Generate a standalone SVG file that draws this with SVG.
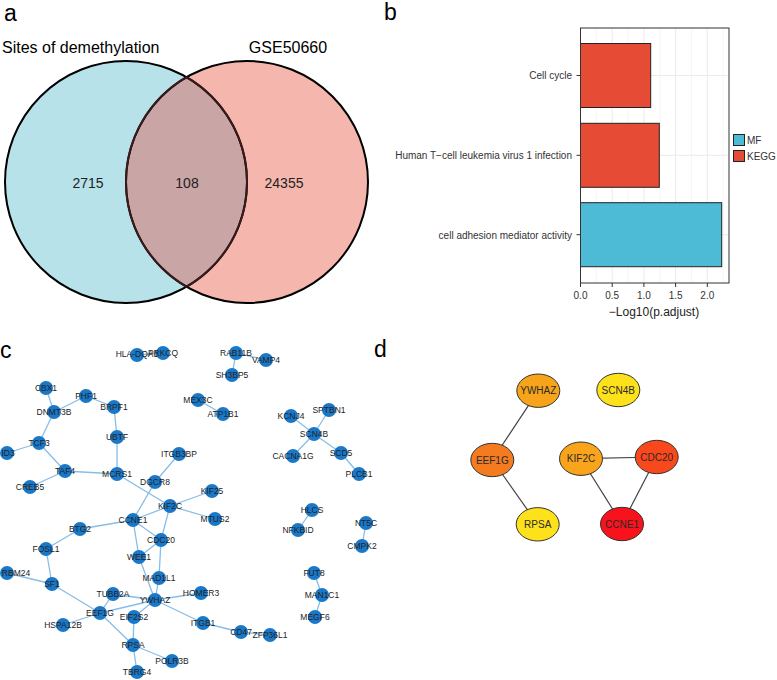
<svg xmlns="http://www.w3.org/2000/svg" width="777" height="680" viewBox="0 0 777 680">
<style>
  text { font-family: "Liberation Sans", Arial, sans-serif; }
  .panel { font-size: 23px; fill: #000; }
  .vt { font-size: 16px; fill: #000; }
  .vn { font-size: 14px; fill: #222; text-anchor: middle; }
  .grid { stroke: #ebebeb; stroke-width: 1; }
  .gridm { stroke: #f3f3f3; stroke-width: 0.8; }
  .ax { font-size: 10px; fill: #333; }
  .tick { stroke: #333; stroke-width: 1; }
  .bar { stroke: #222; stroke-width: 1; }
  .kegg { fill: #e64b35; }
  .mf { fill: #4dbbd5; }
  .e { stroke: #86bde8; stroke-width: 1.3; fill: none; }
  .n circle { fill: #1a78c8; }
  .lbl text { font-size: 8.5px; fill: #222; text-anchor: middle; }
  .de { stroke: #444; stroke-width: 1.2; }
  .dn ellipse { stroke: #333; stroke-width: 1; }
  .dn text { font-size: 10px; fill: #2a2a2a; text-anchor: middle; }
</style>

<rect x="0" y="0" width="777" height="680" fill="#fff"/>

<!-- Panel a -->
<g id="panel-a">
  <text class="panel" x="4" y="21">a</text>
  <text class="vt" x="2" y="53">Sites of demethylation</text>
  <text class="vt" x="288" y="53" text-anchor="middle">GSE50660</text>
  <circle cx="126" cy="182" r="121" fill="#b7e2ea"/>
  <circle cx="247" cy="182" r="121" fill="#f5b7ad"/>
  <path d="M186.5,77.2 A121,121 0 0,1 186.5,286.8 A121,121 0 0,1 186.5,77.2 Z" fill="#c9a5a5"/>
  <circle cx="126" cy="182" r="121" fill="none" stroke="#000" stroke-width="2"/>
  <circle cx="247" cy="182" r="121" fill="none" stroke="#000" stroke-width="2"/>
  <path d="M186.5,77.2 A121,121 0 0,1 186.5,286.8 A121,121 0 0,1 186.5,77.2 Z" fill="none" stroke="#3a1a1a" stroke-width="2"/>
  <text class="vn" x="88" y="188">2715</text>
  <text class="vn" x="187" y="188">108</text>
  <text class="vn" x="284" y="188">24355</text>
</g>

<!-- Panel b -->
<g id="panel-b">
  <text class="panel" x="384" y="20">b</text>
  <rect x="580.5" y="28" width="148.5" height="255" fill="#fff"/>
  <g class="gridm">
    <line x1="596.3" y1="28" x2="596.3" y2="283"/>
    <line x1="628.1" y1="28" x2="628.1" y2="283"/>
    <line x1="659.8" y1="28" x2="659.8" y2="283"/>
    <line x1="691.5" y1="28" x2="691.5" y2="283"/>
    <line x1="723.2" y1="28" x2="723.2" y2="283"/>
  </g>
  <g class="grid">
    <line x1="612.2" y1="28" x2="612.2" y2="283"/>
    <line x1="643.9" y1="28" x2="643.9" y2="283"/>
    <line x1="675.6" y1="28" x2="675.6" y2="283"/>
    <line x1="707.3" y1="28" x2="707.3" y2="283"/>
    <line x1="580.5" y1="75.5" x2="729" y2="75.5"/>
    <line x1="580.5" y1="155.3" x2="729" y2="155.3"/>
    <line x1="580.5" y1="234.7" x2="729" y2="234.7"/>
  </g>
  <rect class="bar kegg" x="580.5" y="43.5" width="70.2" height="64"/>
  <rect class="bar kegg" x="580.5" y="123.3" width="78.8" height="64"/>
  <rect class="bar mf" x="580.5" y="202.7" width="141.2" height="64"/>
  <rect x="580.5" y="28" width="148.5" height="255" fill="none" stroke="#333" stroke-width="1"/>
  <g class="tick">
    <line x1="576.5" y1="75.5" x2="580.5" y2="75.5"/>
    <line x1="576.5" y1="155.3" x2="580.5" y2="155.3"/>
    <line x1="576.5" y1="234.7" x2="580.5" y2="234.7"/>
    <line x1="580.5" y1="283" x2="580.5" y2="287"/>
    <line x1="612.2" y1="283" x2="612.2" y2="287"/>
    <line x1="643.9" y1="283" x2="643.9" y2="287"/>
    <line x1="675.6" y1="283" x2="675.6" y2="287"/>
    <line x1="707.3" y1="283" x2="707.3" y2="287"/>
  </g>
  <g class="ax" text-anchor="end">
    <text x="572" y="79">Cell cycle</text>
    <text x="572" y="159">Human T−cell leukemia virus 1 infection</text>
    <text x="572" y="238.5">cell adhesion mediator activity</text>
  </g>
  <g class="ax" text-anchor="middle">
    <text x="580.5" y="299">0.0</text>
    <text x="612.2" y="299">0.5</text>
    <text x="643.9" y="299">1.0</text>
    <text x="675.6" y="299">1.5</text>
    <text x="707.3" y="299">2.0</text>
  </g>
  <text x="654" y="316" font-size="12" fill="#222" text-anchor="middle">−Log10(p.adjust)</text>
  <rect class="bar mf" x="733.5" y="134.5" width="11" height="11"/>
  <rect class="bar kegg" x="733.5" y="150.5" width="11" height="11"/>
  <text class="ax" x="747" y="144">MF</text>
  <text class="ax" x="747" y="160">KEGG</text>
</g>

<!-- Panel c -->
<text class="panel" x="0" y="358">c</text>
<g id="c-edges">
  <line class="e" x1="137" y1="355" x2="163" y2="353"/>
  <line class="e" x1="236" y1="353" x2="266" y2="360"/>
  <line class="e" x1="236" y1="353" x2="232" y2="375"/>
  <line class="e" x1="198" y1="400" x2="223" y2="414"/>
  <line class="e" x1="314" y1="434" x2="291" y2="416"/>
  <line class="e" x1="314" y1="434" x2="329" y2="410"/>
  <line class="e" x1="314" y1="434" x2="293" y2="456"/>
  <line class="e" x1="314" y1="434" x2="341" y2="453"/>
  <line class="e" x1="341" y1="453" x2="359" y2="474"/>
  <line class="e" x1="46" y1="388" x2="54" y2="412"/>
  <line class="e" x1="54" y1="412" x2="86" y2="396"/>
  <line class="e" x1="86" y1="396" x2="114" y2="407"/>
  <line class="e" x1="114" y1="407" x2="117" y2="437"/>
  <line class="e" x1="117" y1="437" x2="117" y2="474"/>
  <line class="e" x1="54" y1="412" x2="39" y2="443"/>
  <line class="e" x1="39" y1="443" x2="7" y2="453"/>
  <line class="e" x1="39" y1="443" x2="65" y2="471"/>
  <line class="e" x1="65" y1="471" x2="117" y2="474"/>
  <line class="e" x1="65" y1="471" x2="30" y2="487"/>
  <line class="e" x1="117" y1="474" x2="170" y2="506"/>
  <line class="e" x1="179" y1="454" x2="155" y2="482"/>
  <line class="e" x1="155" y1="482" x2="133" y2="520"/>
  <line class="e" x1="170" y1="506" x2="212" y2="491"/>
  <line class="e" x1="170" y1="506" x2="215" y2="519"/>
  <line class="e" x1="170" y1="506" x2="133" y2="520"/>
  <line class="e" x1="170" y1="506" x2="161" y2="540"/>
  <line class="e" x1="133" y1="520" x2="161" y2="540"/>
  <line class="e" x1="133" y1="520" x2="80" y2="529"/>
  <line class="e" x1="133" y1="520" x2="139" y2="557"/>
  <line class="e" x1="161" y1="540" x2="139" y2="557"/>
  <line class="e" x1="161" y1="540" x2="159" y2="578"/>
  <line class="e" x1="139" y1="557" x2="155" y2="600"/>
  <line class="e" x1="159" y1="578" x2="155" y2="600"/>
  <line class="e" x1="80" y1="529" x2="46" y2="549"/>
  <line class="e" x1="46" y1="549" x2="52" y2="584"/>
  <line class="e" x1="52" y1="584" x2="7" y2="573"/>
  <line class="e" x1="52" y1="584" x2="100" y2="613"/>
  <line class="e" x1="155" y1="600" x2="113" y2="594"/>
  <line class="e" x1="155" y1="600" x2="201" y2="593"/>
  <line class="e" x1="155" y1="600" x2="203" y2="623"/>
  <line class="e" x1="155" y1="600" x2="100" y2="613"/>
  <line class="e" x1="155" y1="600" x2="134" y2="617"/>
  <line class="e" x1="113" y1="594" x2="100" y2="613"/>
  <line class="e" x1="100" y1="613" x2="63" y2="625"/>
  <line class="e" x1="100" y1="613" x2="133" y2="645"/>
  <line class="e" x1="134" y1="617" x2="133" y2="645"/>
  <line class="e" x1="133" y1="645" x2="172" y2="661"/>
  <line class="e" x1="133" y1="645" x2="137" y2="672"/>
  <line class="e" x1="203" y1="623" x2="241" y2="632"/>
  <line class="e" x1="241" y1="632" x2="270" y2="635"/>
  <line class="e" x1="312" y1="510" x2="298" y2="530"/>
  <line class="e" x1="366" y1="523" x2="362" y2="546"/>
  <line class="e" x1="314" y1="573" x2="322" y2="595"/>
  <line class="e" x1="322" y1="595" x2="315" y2="617"/>
</g>
<g id="c-nodes" class="n">
  <circle id="n-HLA" cx="137" cy="355" r="7"/>
  <circle id="n-PRKCQ" cx="163" cy="353" r="7"/>
  <circle id="n-RAB11B" cx="236" cy="353" r="7"/>
  <circle id="n-VAMP4" cx="266" cy="360" r="7"/>
  <circle id="n-SH3BP5" cx="232" cy="375" r="7"/>
  <circle id="n-CBX1" cx="46" cy="388" r="7"/>
  <circle id="n-PHF1" cx="86" cy="396" r="7"/>
  <circle id="n-DNMT3B" cx="54" cy="412" r="7"/>
  <circle id="n-BRPF1" cx="114" cy="407" r="7"/>
  <circle id="n-MEX3C" cx="198" cy="400" r="7"/>
  <circle id="n-ATP1B1" cx="223" cy="414" r="7"/>
  <circle id="n-KCNJ4" cx="291" cy="416" r="7"/>
  <circle id="n-SPTBN1" cx="329" cy="410" r="7"/>
  <circle id="n-SCN4B" cx="314" cy="434" r="7"/>
  <circle id="n-CACNA1G" cx="293" cy="456" r="7"/>
  <circle id="n-SCD5" cx="341" cy="453" r="7"/>
  <circle id="n-PLCB1" cx="359" cy="474" r="7"/>
  <circle id="n-UBTF" cx="117" cy="437" r="7"/>
  <circle id="n-TCF3" cx="39" cy="443" r="7"/>
  <circle id="n-ID3" cx="7" cy="453" r="7"/>
  <circle id="n-ITGB3BP" cx="179" cy="454" r="7"/>
  <circle id="n-TAF4" cx="65" cy="471" r="7"/>
  <circle id="n-MCRS1" cx="117" cy="474" r="7"/>
  <circle id="n-DGCR8" cx="155" cy="482" r="7"/>
  <circle id="n-CREB5" cx="30" cy="487" r="7"/>
  <circle id="n-KIF25" cx="212" cy="491" r="7"/>
  <circle id="n-KIF2C" cx="170" cy="506" r="7"/>
  <circle id="n-MTUS2" cx="215" cy="519" r="7"/>
  <circle id="n-HLCS" cx="312" cy="510" r="7"/>
  <circle id="n-NFKBID" cx="298" cy="530" r="7"/>
  <circle id="n-NT5C" cx="366" cy="523" r="7"/>
  <circle id="n-CMPK2" cx="362" cy="546" r="7"/>
  <circle id="n-CCNE1" cx="133" cy="520" r="7"/>
  <circle id="n-BTG2" cx="80" cy="529" r="7"/>
  <circle id="n-CDC20" cx="161" cy="540" r="7"/>
  <circle id="n-FOSL1" cx="46" cy="549" r="7"/>
  <circle id="n-WEE1" cx="139" cy="557" r="7"/>
  <circle id="n-RBM24" cx="7" cy="573" r="7"/>
  <circle id="n-MAD1L1" cx="159" cy="578" r="7"/>
  <circle id="n-SF1" cx="52" cy="584" r="7"/>
  <circle id="n-FUT8" cx="314" cy="573" r="7"/>
  <circle id="n-MAN1C1" cx="322" cy="595" r="7"/>
  <circle id="n-MEGF6" cx="315" cy="617" r="7"/>
  <circle id="n-HOMER3" cx="201" cy="593" r="7"/>
  <circle id="n-TUBB2A" cx="113" cy="594" r="7"/>
  <circle id="n-YWHAZ" cx="155" cy="600" r="7"/>
  <circle id="n-EEF1G" cx="100" cy="613" r="7"/>
  <circle id="n-EIF2S2" cx="134" cy="617" r="7"/>
  <circle id="n-HSPA12B" cx="63" cy="625" r="7"/>
  <circle id="n-ITGB1" cx="203" cy="623" r="7"/>
  <circle id="n-CD47" cx="241" cy="632" r="7"/>
  <circle id="n-ZFP36L1" cx="270" cy="635" r="7"/>
  <circle id="n-RPSA" cx="133" cy="645" r="7"/>
  <circle id="n-POLR3B" cx="172" cy="661" r="7"/>
  <circle id="n-TBRG4" cx="137" cy="672" r="7"/>
</g>
<g id="c-labels" class="lbl">
  <text x="137" y="357">HLA-DQA1</text>
  <text x="163" y="356">PRKCQ</text>
  <text x="236" y="356">RAB11B</text>
  <text x="266" y="363">VAMP4</text>
  <text x="232" y="378">SH3BP5</text>
  <text x="46" y="391">CBX1</text>
  <text x="86" y="399">PHF1</text>
  <text x="54" y="415">DNMT3B</text>
  <text x="114" y="410">BRPF1</text>
  <text x="198" y="403">MEX3C</text>
  <text x="223" y="417">ATP1B1</text>
  <text x="291" y="419">KCNJ4</text>
  <text x="329" y="413">SPTBN1</text>
  <text x="314" y="437">SCN4B</text>
  <text x="293" y="459">CACNA1G</text>
  <text x="341" y="456">SCD5</text>
  <text x="359" y="477">PLCB1</text>
  <text x="117" y="440">UBTF</text>
  <text x="39" y="446">TCF3</text>
  <text x="8" y="456">ID3</text>
  <text x="179" y="457">ITGB3BP</text>
  <text x="65" y="474">TAF4</text>
  <text x="117" y="477">MCRS1</text>
  <text x="155" y="485">DGCR8</text>
  <text x="30" y="490">CREB5</text>
  <text x="212" y="494">KIF25</text>
  <text x="170" y="509">KIF2C</text>
  <text x="215" y="522">MTUS2</text>
  <text x="312" y="513">HLCS</text>
  <text x="298" y="533">NFKBID</text>
  <text x="366" y="526">NT5C</text>
  <text x="362" y="549">CMPK2</text>
  <text x="133" y="523">CCNE1</text>
  <text x="80" y="532">BTG2</text>
  <text x="161" y="543">CDC20</text>
  <text x="46" y="552">FOSL1</text>
  <text x="139" y="560">WEE1</text>
  <text x="16" y="576">RBM24</text>
  <text x="159" y="581">MAD1L1</text>
  <text x="52" y="587">SF1</text>
  <text x="314" y="576">FUT8</text>
  <text x="322" y="598">MAN1C1</text>
  <text x="315" y="620">MEGF6</text>
  <text x="201" y="596">HOMER3</text>
  <text x="113" y="597">TUBB2A</text>
  <text x="155" y="603">YWHAZ</text>
  <text x="100" y="616">EEF1G</text>
  <text x="134" y="620">EIF2S2</text>
  <text x="63" y="628">HSPA12B</text>
  <text x="203" y="626">ITGB1</text>
  <text x="241" y="635">CD47</text>
  <text x="270" y="638">ZFP36L1</text>
  <text x="133" y="648">RPSA</text>
  <text x="172" y="664">POLR3B</text>
  <text x="137" y="675">TBRG4</text>
</g>

<!-- Panel d -->
<text class="panel" x="374" y="357">d</text>
<g id="d-edges">
  <line class="de" x1="538.3" y1="390.7" x2="492.3" y2="460"/>
  <line class="de" x1="492.3" y1="460" x2="537.7" y2="524.3"/>
  <line class="de" x1="581" y1="458.7" x2="656.7" y2="457"/>
  <line class="de" x1="581" y1="458.7" x2="622" y2="524"/>
  <line class="de" x1="656.7" y1="457" x2="622" y2="524"/>
</g>
<g id="d-YWHAZ" class="dn"><ellipse cx="538.3" cy="390.7" rx="21.5" ry="16.7" fill="#f8a41b"/><text x="538.3" y="394.3">YWHAZ</text></g>
<g id="d-SCN4B" class="dn"><ellipse cx="618.3" cy="390" rx="21.5" ry="16.7" fill="#fde11b"/><text x="618.3" y="393.6">SCN4B</text></g>
<g id="d-EEF1G" class="dn"><ellipse cx="492.3" cy="460" rx="21.5" ry="16.7" fill="#f47b1f"/><text x="492.3" y="463.6">EEF1G</text></g>
<g id="d-KIF2C" class="dn"><ellipse cx="581" cy="458.7" rx="21.5" ry="16.7" fill="#f9a41b"/><text x="581" y="462.3">KIF2C</text></g>
<g id="d-CDC20" class="dn"><ellipse cx="656.7" cy="457" rx="21.5" ry="16.7" fill="#f9481c"/><text x="656.7" y="460.6">CDC20</text></g>
<g id="d-RPSA" class="dn"><ellipse cx="537.7" cy="524.3" rx="21.5" ry="16.7" fill="#fde11b"/><text x="537.7" y="527.9">RPSA</text></g>
<g id="d-CCNE1" class="dn"><ellipse cx="622" cy="524" rx="21.5" ry="16.7" fill="#f8121b"/><text x="622" y="527.6">CCNE1</text></g>
</svg>
